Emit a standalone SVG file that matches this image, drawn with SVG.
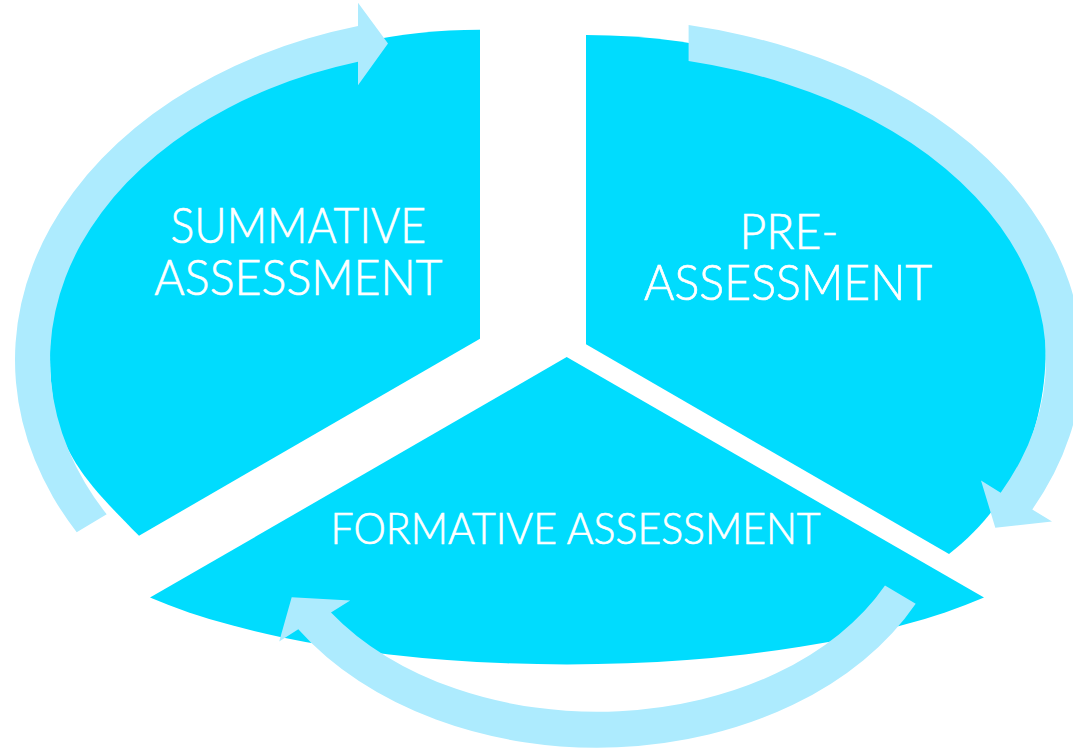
<svg xmlns="http://www.w3.org/2000/svg" width="1073" height="749" viewBox="0 0 1073 749">
  <style>
    .segment { fill: #00DCFE; }
    .cycle-arrow { fill: #ADEBFE; }
    .label { fill: #FFFFFF; stroke: #FFFFFF; stroke-width: 0.7px; font-family: Lato, "Open Sans", "Liberation Sans", sans-serif; font-weight: 300; }
    .label-lg { font-size: 49.5px; }
    .label-sm { font-size: 43.7px; }
  </style>
  <rect width="1073" height="749" fill="#FFFFFF"/>

  <!-- upper-left segment -->
  <g id="node-summative">
    <path class="segment" d="M 480,29.7 L 480,338.7 L 139,535.7 C 74,470.7 50,442 50,352 C 50,174 242.5,29.7 480,29.7 Z"/>
    <text class="label label-lg">
      <tspan x="170.5" y="243" textLength="255.5" lengthAdjust="spacingAndGlyphs">SUMMATIVE</tspan>
      <tspan x="154.3" y="295.3" textLength="288.2" lengthAdjust="spacingAndGlyphs">ASSESSMENT</tspan>
    </text>
  </g>

  <!-- upper-right segment -->
  <g id="node-pre">
    <path class="segment" d="M 586,35 L 586,344.3 L 949,554 C 1012.3,505.1 1045.7,430 1045.7,350 C 1045.7,176 839.9,35 586,35 Z"/>
    <text class="label label-lg">
      <tspan x="739.6" y="248.7" textLength="98.8" lengthAdjust="spacingAndGlyphs">PRE-</tspan>
      <tspan x="643.9" y="300" textLength="288.5" lengthAdjust="spacingAndGlyphs">ASSESSMENT</tspan>
    </text>
  </g>

  <!-- bottom segment -->
  <g id="node-formative">
    <path class="segment" d="M 566.7,357 L 984,597.6 A 520 166 0 0 1 150,597.6 Z"/>
    <text class="label label-sm" x="330.6" y="544" textLength="490" lengthAdjust="spacingAndGlyphs">FORMATIVE ASSESSMENT</text>
  </g>

  <!-- curved arrows running clockwise round the segments -->
  <g id="connectors">
    <path class="cycle-arrow" d="M 76.7,532.2 A 465 346 0 0 1 358,26.1 L 358,2.7 L 388,43.5 L 358,85.3 L 358,61.8 A 430 311 0 0 0 106.7,514.3 Z"/>
    <path class="cycle-arrow" d="M 688.6,25 A 496 342.4 0 0 1 1032.3,509.4 L 1052,521.5 L 995.3,527.7 L 981,480.5 L 1000.7,492.7 A 460 306.7 0 0 0 688.6,61 Z"/>
    <path class="cycle-arrow" d="M 915.7,603.7 A 356 259.7 0 0 1 298.3,629.3 L 279.2,641.4 L 291.7,597.3 L 350.2,600.4 L 331,612.4 A 320 223.7 0 0 0 885,585.5 Z"/>
  </g>
</svg>
